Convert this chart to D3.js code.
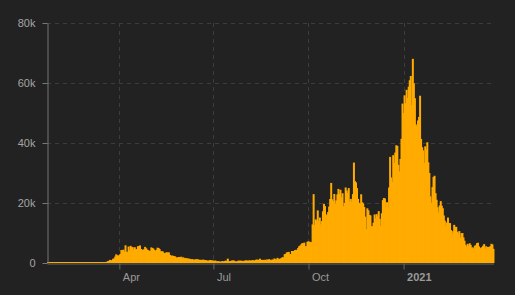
<!DOCTYPE html>
<html>
<head>
<meta charset="utf-8">
<script src="https://cdn.jsdelivr.net/npm/d3@7"></script>
<style>
  html, body { margin: 0; padding: 0; background: #222222; }
  svg { display: block; font-family: "Open Sans", sans-serif; }
</style>
</head>
<body>
<div id="chart"></div>
<script>
// daily new cases, one array per month (Jan 2020 starts on the 22nd)
const cases2020Jan = [0, 0, 0, 0, 0, 0, 0, 0, 0, 0];
const cases2020Feb = [2, 0, 0, 0, 0, 0, 1, 0, 0, 3, 5, 0, 0, 0, 0, 0, 0, 0, 0, 0, 0, 0, 0, 0, 0, 4, 0, 2, 5];
const cases2020Mar = [8, 12, 4, 11, 34, 29, 48, 43, 67, 48, 61, 74, 130, 342, 207, 264, 171, 343, 409, 647, 706, 1035, 665, 967, 1427, 1452, 2129, 2885, 2546, 2433, 2619];
const cases2020Apr = [3009, 4324, 4244, 4450, 3735, 5903, 3802, 3634, 5491, 4344, 5706, 5234, 5288, 4342, 5252, 4603, 4617, 5599, 5525, 5850, 4676, 4301, 4451, 4583, 5386, 4913, 4463, 4309, 3996, 4076];
const cases2020May = [5200, 5000, 4800, 4339, 3985, 4406, 5100, 5000, 4649, 3896, 3923, 3877, 3403, 3242, 3446, 3560, 3450, 3534, 2684, 2412, 2472, 2400, 2300, 2200, 1900, 1625, 2004, 2013, 1887, 2095, 1604];
const cases2020Jun = [1900, 1570, 1650, 1600, 1500, 1450, 1400, 1300, 1200, 1300, 1000, 1150, 1250, 1200, 1250, 1000, 1100, 1000, 1050, 1100, 1050, 1000, 900, 850, 650, 900, 1000, 850, 850, 800];
const cases2020Jul = [689, 829, 576, 544, 624, 516, 352, 581, 630, 512, 642, 820, 650, 1450, 538, 650, 687, 827, 796, 827, 580, 445, 560, 769, 768, 755, 767, 685, 581, 763, 846];
const cases2020Aug = [880, 771, 744, 938, 670, 892, 950, 871, 758, 1062, 1148, 1062, 1009, 1441, 1063, 1012, 1040, 713, 1089, 812, 1182, 1033, 1288, 1041, 853, 1184, 1048, 1522, 1276, 1108, 1715];
const cases2020Sep = [1400, 1300, 1500, 1700, 1950, 1850, 2950, 2950, 3500, 3600, 3700, 2900, 3000, 4000, 4000, 3900, 4300, 4400, 4300, 5000, 5600, 5800, 6200, 6600, 6600, 6800, 5600, 5600, 7100, 7200];
const cases2020Oct = [7108, 6914, 6968, 12872, 22961, 12594, 14542, 14162, 17540, 13864, 15166, 12872, 13972, 17234, 19724, 18980, 15650, 16171, 16982, 18804, 21331, 26688, 21242, 20530, 23012, 19790, 20890, 22885, 24701, 23065, 24405];
const cases2020Nov = [21915, 23254, 18950, 20018, 25177, 24141, 23287, 24957, 20572, 21350, 20412, 22950, 33470, 27301, 26860, 24962, 21363, 20051, 19609, 22915, 20252, 19875, 18662, 15450, 11299, 18213, 17555, 16022, 15871, 12155];
const cases2020Dec = [12330, 13430, 16170, 14879, 16298, 15539, 17272, 14718, 12282, 16578, 20964, 21672, 21502, 18447, 20263, 18450, 25161, 35383, 28507, 27052, 35928, 33364, 36804, 39237, 39036, 32725, 30501, 34693, 41385, 53135, 50023];
const cases2021Jan = [55892, 53285, 57725, 54990, 58784, 60916, 62322, 52618, 68053, 59937, 54940, 46169, 45533, 47525, 48682, 55761, 41346, 38598, 37535, 33355, 38905, 37892, 40261, 33552, 30004, 22195, 20089, 25308, 28680, 29079, 23275];
const cases2021Feb = [21088, 18607, 16840, 19202, 20634, 19114, 18262, 15845, 14104, 12364, 13494, 15144, 13308, 13308, 10972, 9765, 10625, 12718, 12057, 12027, 10406, 9834, 10641, 8489, 9938, 9985, 8523, 7434];
const cases2021Mar = [6035, 5455, 6391, 5766, 6573, 6040, 5177, 5177, 4712, 5766, 5926, 6609, 6753, 5534, 4618, 5089, 5294, 5758, 6303, 4802, 5587, 5312, 5342, 5379, 5605, 6397, 6187, 4715];

// first day of each array
const monthStarts = ["2020-01-22", "2020-02-01", "2020-03-01", "2020-04-01", "2020-05-01", "2020-06-01",
  "2020-07-01", "2020-08-01", "2020-09-01", "2020-10-01", "2020-11-01", "2020-12-01",
  "2021-01-01", "2021-02-01", "2021-03-01"];
const monthValues = [cases2020Jan, cases2020Feb, cases2020Mar, cases2020Apr, cases2020May, cases2020Jun,
  cases2020Jul, cases2020Aug, cases2020Sep, cases2020Oct, cases2020Nov, cases2020Dec,
  cases2021Jan, cases2021Feb, cases2021Mar];

const yTicks = [0, 20000, 40000, 60000, 80000];

const parseDay = d3.timeParse("%Y-%m-%d");
const data = [];
monthStarts.forEach((s, m) => {
  const start = parseDay(s);
  monthValues[m].forEach((v, i) => {
    data.push({ date: d3.timeDay.offset(start, i), value: v });
  });
});

const width = 515;
const height = 295;
const margin = { top: 23, right: 21.5, bottom: 32, left: 47 };

const svg = d3.select("#chart")
  .append("svg")
  .attr("width", width)
  .attr("height", height);

const x = d3.scaleTime()
  .domain([parseDay("2020-01-22"), parseDay("2021-03-29")])
  .range([margin.left, width - margin.right]);

const y = d3.scaleLinear()
  .domain([0, 80000])
  .range([height - margin.bottom, margin.top]);

const xTicks = x.ticks(d3.timeMonth.every(3)).filter(d => d > x.domain()[0]);

//grid
svg.append("g")
  .selectAll("line")
  .data(yTicks.filter(d => d > 0))
  .join("line")
  .attr("x1", margin.left)
  .attr("x2", width - margin.right)
  .attr("y1", d => Math.round(y(d)) + 0.5)
  .attr("y2", d => Math.round(y(d)) + 0.5)
  .attr("stroke", "#3d3d3d")
  .attr("stroke-dasharray", "4,4");

svg.append("g")
  .selectAll("line")
  .data(xTicks)
  .join("line")
  .attr("x1", d => Math.round(x(d)) + 0.5)
  .attr("x2", d => Math.round(x(d)) + 0.5)
  .attr("y1", margin.top)
  .attr("y2", height - margin.bottom)
  .attr("stroke", "#3d3d3d")
  .attr("stroke-dasharray", "4,4");

//x axis
const xAxis = svg.append("g")
  .attr("transform", `translate(0,${height - margin.bottom + 0.5})`)
  .call(d3.axisBottom(x)
    .tickValues(xTicks)
    .tickSize(6)
    .tickSizeOuter(0)
    .tickFormat(d => d.getMonth() === 0 ? d3.timeFormat("%Y")(d) : d3.timeFormat("%b")(d)));

xAxis.select(".domain").attr("stroke", "#666");
xAxis.selectAll(".tick line").attr("stroke", "#666");
xAxis.selectAll(".tick text")
  .attr("fill", "#9a9a9a")
  .attr("font-size", 11)
  .attr("text-anchor", "start")
  .attr("x", 3)
  .attr("y", 10)
  .attr("font-weight", d => d.getMonth() === 0 ? "bold" : "normal");

//bars
svg.append("g")
  .selectAll("rect")
  .data(data)
  .join("rect")
  .attr("x", d => x(d.date))
  .attr("width", 2)
  .attr("y", d => Math.min(y(d.value), y(0) - 1))
  .attr("height", d => y(0) - Math.min(y(d.value), y(0) - 1))
  .attr("fill", "#ffab00");

//y axis
const yAxis = svg.append("g")
  .attr("transform", `translate(${margin.left + 0.5},0)`)
  .call(d3.axisLeft(y)
    .tickValues(yTicks)
    .tickSize(5)
    .tickPadding(7)
    .tickSizeOuter(0)
    .tickFormat(d => d === 0 ? "0" : d / 1000 + "k"));

yAxis.select(".domain").attr("stroke", "#777");
yAxis.selectAll(".tick line").attr("stroke", "#777");
yAxis.selectAll(".tick text")
  .attr("fill", "#a5a5a5")
  .attr("font-size", 11);
</script>
</body>
</html>
